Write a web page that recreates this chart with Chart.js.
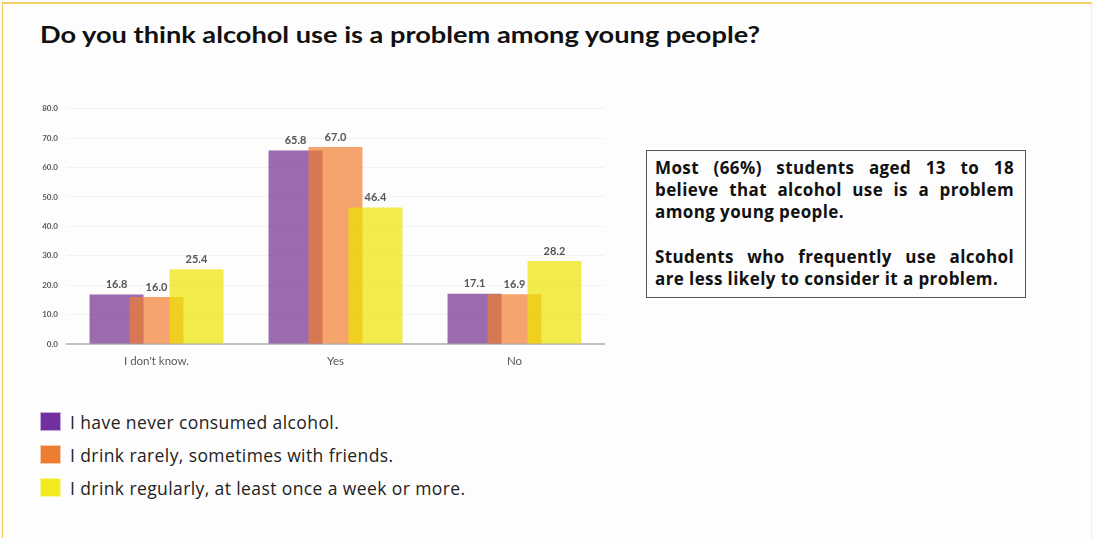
<!DOCTYPE html>
<html>
<head>
<meta charset="utf-8">
<script src="https://cdn.jsdelivr.net/npm/chart.js@4/dist/chart.umd.min.js"></script>
<style>
  html, body { margin: 0; padding: 0; }
  body { width: 1095px; height: 538px; background: #fdfdfd; position: relative; overflow: hidden; font-family: Lato, "Open Sans", sans-serif; }
  .frame { position: absolute; left: 2px; top: 2px; width: 1090px; height: 540px; border-top: 2px solid #f3cf66; border-left: 1px solid #efc95e; border-right: 1px solid #fdeec8; box-sizing: border-box; }
  h1 { position: absolute; left: 40px; top: 20px; margin: 0; font-size: 23px; font-weight: 700; color: #111; white-space: nowrap; transform-origin: 0 0; }
  .chartbox { position: absolute; left: 20px; top: 95px; width: 600px; height: 285px; }
  .note { position: absolute; left: 646px; top: 150px; width: 380px; height: 148px; border: 1px solid #555; box-sizing: border-box; padding: 6px 11px 0 8px; font-family: "Open Sans", sans-serif; font-size: 17px; letter-spacing: 0.4px; font-weight: 700; color: #111; line-height: 22px; }
  .note .j { text-align: justify; text-align-last: justify; }
  .note .gap { height: 23px; }
  .legend { position: absolute; left: 40px; top: 405px; }
  .legend .row { display: flex; align-items: center; height: 33px; }
  .legend .sw { width: 21px; height: 19px; margin-right: 9px; box-sizing: border-box; border: 1px solid rgba(255,255,255,0.6); }
  .legend .tx { font-family: "Open Sans", sans-serif; font-size: 17.5px; letter-spacing: 0.4px; color: #222; }
</style>
</head>
<body>
<div class="frame"></div>
<h1 id="title">Do you think alcohol use is a problem among young people?</h1>
<div class="chartbox"><canvas id="c" width="600" height="285"></canvas></div>
<div class="note">
  <div class="j">Most (66%) students aged 13 to 18</div>
  <div class="j">believe that alcohol use is a problem</div>
  <div>among young people.</div>
  <div class="gap"></div>
  <div class="j">Students who frequently use alcohol</div>
  <div>are less likely to consider it a problem.</div>
</div>
<div class="legend" id="legend"></div>
<script>
// Answer categories and the share (%) of each drinking group choosing them
const categories = ["I don't know.", "Yes", "No"];
const seriesNames = [
  "I have never consumed alcohol.",
  "I drink rarely, sometimes with friends.",
  "I drink regularly, at least once a week or more."
];
const neverDrink = [16.8, 65.8, 17.1];
const rarelyDrink = [16.0, 67.0, 16.9];
const regularlyDrink = [25.4, 46.4, 28.2];
const yTicks = [0, 10, 20, 30, 40, 50, 60, 70, 80];

const barColors = ['rgba(112,44,139,0.7)', 'rgba(240,125,45,0.7)', 'rgba(236,226,0,0.7)'];
const keyColors = ['#7030A0', '#ED7D31', '#F2EA1C'];

// stretch the title to its intended line length
(function () {
  const t = document.getElementById('title');
  const w = t.getBoundingClientRect().width;
  t.style.transform = 'scaleX(' + (720 / w) + ')';
})();

// legend below the chart
const legend = document.getElementById('legend');
seriesNames.forEach((name, i) => {
  const row = document.createElement('div');
  row.className = 'row';
  row.innerHTML = '<div class="sw" style="background:' + keyColors[i] + '"></div><div class="tx"></div>';
  row.querySelector('.tx').textContent = name;
  legend.appendChild(row);
});

// draw the series in index order so later series sit over earlier ones,
// then write each bar's value above it
const layeredBars = {
  id: 'layeredBars',
  beforeDatasetsDraw(chart) {
    const ctx = chart.ctx;
    const metas = chart.getSortedVisibleDatasetMetas().slice().sort((a, b) => a.index - b.index);
    metas.forEach(m => m.controller.draw());
    ctx.save();
    ctx.font = 'bold 11px Lato, "Open Sans", sans-serif';
    ctx.fillStyle = '#555555';
    ctx.textAlign = 'center';
    ctx.textBaseline = 'middle';
    metas.forEach(m => {
      const vals = chart.data.datasets[m.index].data;
      m.data.forEach((bar, i) => {
        ctx.fillText(vals[i].toFixed(1), bar.x, bar.y - 10);
      });
    });
    ctx.restore();
    return false;
  }
};

new Chart(document.getElementById('c'), {
  type: 'bar',
  data: {
    labels: categories,
    datasets: [
      { label: seriesNames[0], data: neverDrink, backgroundColor: barColors[0] },
      { label: seriesNames[1], data: rarelyDrink, backgroundColor: barColors[1] },
      { label: seriesNames[2], data: regularlyDrink, backgroundColor: barColors[2] }
    ]
  },
  options: {
    responsive: false,
    maintainAspectRatio: false,
    animation: false,
    devicePixelRatio: 1,
    categoryPercentage: 0.67,
    barPercentage: 1.35,
    layout: { padding: { top: 9, right: 16, left: 0, bottom: 0 } },
    plugins: { legend: { display: false }, tooltip: { enabled: false } },
    scales: {
      x: {
        grid: { display: false },
        border: { display: true, color: '#bfbfbf', width: 2 },
        ticks: { color: '#595959', font: { family: 'Lato', size: 11.5 }, padding: 2 },
        afterFit(s) { s.height = 36; }
      },
      y: {
        min: 0, max: 80,
        afterBuildTicks(s) { s.ticks = yTicks.map(v => ({ value: v })); },
        grid: { color: '#f2f2f2', drawTicks: false },
        border: { display: false },
        ticks: { color: '#595959', font: { family: 'Lato', size: 8, weight: 'bold' }, padding: 9,
                 callback: v => Number(v).toFixed(1) },
        afterFit(s) { s.width = 47; }
      }
    }
  },
  plugins: [layeredBars]
});
</script>
</body>
</html>
